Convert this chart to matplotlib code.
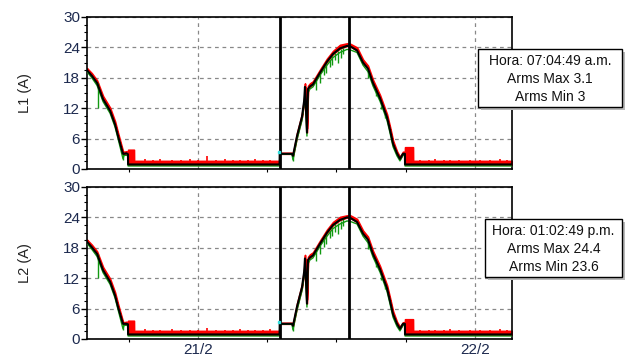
import matplotlib
import matplotlib.pyplot as plt
import numpy as np
from matplotlib.patches import Rectangle
from matplotlib.ticker import FixedLocator, MultipleLocator

matplotlib.use("Agg")
plt.rcParams["font.family"] = ["Liberation Sans", "DejaVu Sans"]

# time in hours counted from 20/2 00:00
t_hours = [
    14.38, 14.80, 15.25, 15.77, 16.38, 16.81, 17.07, 17.50, 17.59, 17.80, 17.93,
    17.94, 18.45, 18.46, 31.07,
    31.08, 32.14, 32.23, 32.58, 33.01, 33.20, 33.27, 33.44, 33.53, 33.70,
    33.96, 34.57, 35.18, 35.70, 36.30, 36.91, 37.20, 37.78, 38.30, 38.73,
    39.16, 39.77, 40.38, 40.64, 40.90, 41.24, 41.50, 41.76, 41.93,
    41.94, 42.63, 42.64, 51.21,
]

l1_avg = [
    19.5, 18.4, 17.0, 13.8, 11.5, 8.8, 6.5, 3.0, 3.0, 3.1, 2.9,
    0.9, 0.9, 0.9, 0.9,
    3.0, 3.0, 2.6, 6.5, 10.3, 13.5, 16.2, 7.2, 15.8, 16.3,
    16.7, 19.0, 21.2, 22.7, 23.8, 24.3, 24.2, 23.4, 21.0, 19.8,
    17.0, 14.0, 10.2, 7.7, 5.0, 3.1, 2.0, 3.0, 3.0,
    0.9, 0.9, 0.9, 0.9,
]
l1_max = [
    19.9, 18.9, 17.5, 14.4, 12.1, 9.4, 7.1, 3.5, 3.4, 3.5, 3.3,
    3.8, 3.8, 1.6, 1.6,
    3.2, 3.2, 3.0, 7.1, 10.9, 14.1, 16.9, 8.0, 16.4, 16.9,
    17.3, 19.6, 21.8, 23.3, 24.5, 24.8, 24.7, 24.0, 21.6, 20.4,
    17.6, 14.6, 10.8, 8.3, 5.6, 3.5, 2.4, 3.4, 3.4,
    4.3, 4.3, 1.6, 1.6,
]
l1_min = [
    19.2, 18.0, 16.5, 13.3, 11.0, 8.3, 6.0, 2.0, 2.7, 2.7, 2.6,
    0.6, 0.6, 0.6, 0.6,
    2.9, 2.9, 1.8, 5.8, 9.6, 12.8, 15.0, 6.5, 15.0, 15.8,
    16.2, 18.5, 20.5, 22.0, 23.0, 23.6, 23.5, 23.0, 20.5, 19.2,
    16.4, 13.4, 9.6, 7.1, 4.4, 2.6, 1.6, 2.7, 2.7,
    0.6, 0.6, 0.6, 0.6,
]

l2_avg = [
    19.2, 18.1, 16.8, 13.6, 11.3, 8.6, 6.3, 3.0, 3.0, 3.0, 2.9,
    0.9, 0.9, 0.9, 0.9,
    3.0, 3.0, 2.6, 6.4, 10.2, 13.3, 15.9, 7.0, 15.6, 16.1,
    16.5, 18.8, 21.0, 22.5, 23.5, 24.0, 23.9, 23.1, 20.8, 19.6,
    16.8, 13.8, 10.0, 7.5, 4.9, 3.0, 2.0, 3.0, 3.0,
    0.9, 0.9, 0.9, 0.9,
]
l2_max = [
    19.6, 18.6, 17.3, 14.2, 11.9, 9.2, 6.9, 3.4, 3.3, 3.4, 3.3,
    3.6, 3.6, 1.6, 1.6,
    3.2, 3.2, 3.0, 7.0, 10.8, 13.9, 16.6, 7.8, 16.2, 16.7,
    17.1, 19.4, 21.6, 23.1, 24.1, 24.4, 24.4, 23.7, 21.4, 20.2,
    17.4, 14.4, 10.6, 8.1, 5.5, 3.4, 2.4, 3.3, 3.3,
    3.9, 3.9, 1.6, 1.6,
]
l2_min = [
    18.9, 17.7, 16.3, 13.1, 10.8, 8.1, 5.8, 2.0, 2.7, 2.7, 2.6,
    0.6, 0.6, 0.6, 0.6,
    2.9, 2.9, 1.8, 5.7, 9.5, 12.6, 14.8, 6.3, 14.8, 15.6,
    16.0, 18.3, 20.3, 21.8, 22.7, 23.3, 23.2, 22.7, 20.3, 19.0,
    16.2, 13.2, 9.4, 6.9, 4.3, 2.5, 1.6, 2.7, 2.7,
    0.6, 0.6, 0.6, 0.6,
]

# short red peaks during the night
spike_t = [19.41, 20.10, 20.71, 21.75, 22.50, 23.31, 24.00, 24.78, 25.60,
           26.34, 27.00, 27.64, 28.30, 28.94, 29.60, 30.24,
           43.23, 44.00, 44.53, 45.30, 45.83, 46.60, 47.57, 48.40, 49.30,
           50.16, 50.80]
l1_spike = [2.0, 1.8, 1.9, 1.8, 1.7, 1.9, 1.7, 2.5, 1.8, 1.9, 1.7, 1.8, 1.8,
            1.9, 1.7, 1.8, 1.8, 1.7, 1.9, 1.8, 1.8, 1.7, 1.8, 1.8, 1.7, 2.0, 1.8]
l2_spike = [1.9, 1.8, 1.8, 1.9, 1.7, 1.8, 1.8, 2.2, 1.8, 1.8, 1.7, 1.9, 1.8,
            1.8, 1.7, 1.9, 1.8, 1.7, 1.8, 1.8, 1.9, 1.7, 1.8, 1.8, 1.7, 1.9, 1.8]

# short green drops during the day
dip_t = [15.30, 17.52, 32.25, 34.20, 34.60, 34.90, 35.10, 35.40, 35.60,
         35.90, 36.10, 36.40, 36.60, 38.75, 39.40, 39.90, 40.20]
l1_dip_top = [16.9, 3.0, 2.8, 17.5, 18.8, 20.0, 20.8, 21.6, 22.3,
              22.9, 23.2, 23.6, 23.9, 19.6, 15.6, 12.5, 11.3]
l1_dip = [12.0, 1.8, 1.6, 15.5, 17.0, 18.5, 19.0, 20.2, 20.5,
          21.5, 21.0, 22.0, 22.6, 18.0, 14.5, 11.8, 10.0]
l2_dip_top = [16.7, 3.0, 2.8, 17.3, 18.6, 19.8, 20.6, 21.4, 22.1,
              22.6, 22.9, 23.3, 23.6, 19.4, 15.4, 12.3, 11.1]
l2_dip = [12.0, 1.8, 1.6, 15.3, 16.8, 18.2, 18.8, 20.0, 20.3,
          21.2, 20.8, 21.8, 22.3, 17.8, 14.3, 11.6, 9.8]

cursor_t = [31.08, 37.05]
x_ticks = [24, 48]
x_labels = ["21/2", "22/2"]

panels = [
    ("L1 (A)", l1_avg, l1_max, l1_min, l1_spike, l1_dip_top, l1_dip,
     ["Hora: 07:04:49 a.m.", "Arms Max 3.1", "Arms Min 3"]),
    ("L2 (A)", l2_avg, l2_max, l2_min, l2_spike, l2_dip_top, l2_dip,
     ["Hora: 01:02:49 p.m.", "Arms Max 24.4", "Arms Min 23.6"]),
]

W, H = 633, 358
fig = plt.figure(figsize=(W / 100, H / 100), dpi=100)

tick_color = "#1d2a4f"
axes_px = [(87, 17, 512, 169), (87, 187, 512, 339)]
box_px = [(478, 49, 622, 107), (485, 219, 622, 277)]

for i, (label, avg, mx, mn, spk, dtop, dip, lines) in enumerate(panels):
    x0, y0, x1, y1 = axes_px[i]
    ax = fig.add_axes([x0 / W, 1 - y1 / H, (x1 - x0) / W, (y1 - y0) / H])

    ax.fill_between(t_hours, avg, mx, color="#ff0000", lw=1.2, zorder=2)
    ax.vlines(spike_t, 0.9, spk, color="#ff0000", lw=1.2, zorder=2)
    ax.plot(t_hours, mn, color="#119911", lw=1.0, zorder=3)
    ax.vlines(dip_t, dip, dtop, color="#119911", lw=1.0, zorder=3)
    ax.plot(t_hours, avg, color="black", lw=1.5, zorder=4)
    for ct in cursor_t:
        ax.axvline(ct, color="black", lw=2.0, zorder=5)
    ax.plot([cursor_t[0] - 0.1], [3.3], marker="s", ms=2, color="#33dddd",
            zorder=6)

    ax.set_xlim(14.38, 51.21)
    ax.set_ylim(0, 30)
    ax.yaxis.set_major_locator(MultipleLocator(6))
    ax.yaxis.set_minor_locator(MultipleLocator(1.5))
    ax.xaxis.set_major_locator(FixedLocator(x_ticks))
    ax.xaxis.set_minor_locator(FixedLocator([18, 30, 36, 42]))
    if i == 1:
        ax.set_xticklabels(x_labels)
    else:
        ax.set_xticklabels([])

    ax.grid(True, which="major", color="#888888", ls=(0, (3, 3)), lw=0.9)
    ax.tick_params(axis="both", which="major", length=4, width=1,
                   labelsize=11, labelcolor=tick_color, pad=1)
    ax.tick_params(axis="both", which="minor", length=2, width=0.8)
    ax.tick_params(axis="x", which="major", length=0, pad=3)
    for s in ax.spines.values():
        s.set_linewidth(1.2)
    ax.set_ylabel(label, fontsize=10.5, color="#222222")
    ax.yaxis.set_label_coords(-0.13, 0.5)

    # tooltip box with shadow
    bx0, by0, bx1, by1 = box_px[i]
    fig.patches.append(Rectangle((bx0 / W + 3 / W, 1 - by1 / H - 3 / H),
                                 (bx1 - bx0) / W, (by1 - by0) / H,
                                 transform=fig.transFigure, fc="#b8b8b8",
                                 ec="none", zorder=10))
    fig.patches.append(Rectangle((bx0 / W, 1 - by1 / H),
                                 (bx1 - bx0) / W, (by1 - by0) / H,
                                 transform=fig.transFigure, fc="white",
                                 ec="black", lw=1.0, zorder=11))
    cx = (bx0 + bx1) / 2
    for j, txt in enumerate(lines):
        cy = by0 + 12 + 18 * j
        fig.text(cx / W, 1 - cy / H, txt, ha="center", va="center",
                 fontsize=10, color="#111111", zorder=12)

fig.savefig("out.png", dpi=100)
